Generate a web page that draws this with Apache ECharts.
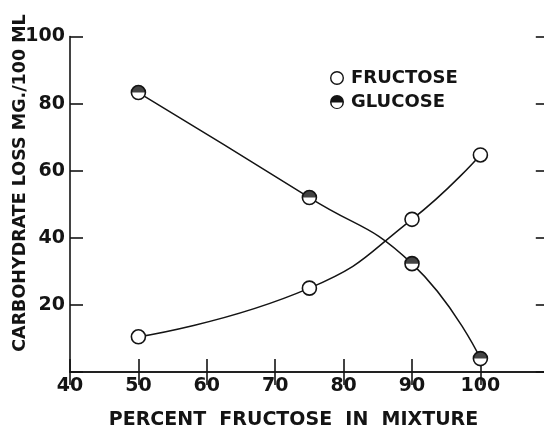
<!DOCTYPE html>
<html><head><meta charset="utf-8">
<script src="https://cdn.jsdelivr.net/npm/echarts@6/dist/echarts.min.js"></script>
<style>html,body{margin:0;padding:0;background:#fff}#c{width:544px;height:429px}</style>
</head><body><div id="c"></div>
<script>
// ---- data ----
const percentFructose = [50, 75, 90, 100];
const fructoseLoss = [10.5, 25, 45.5, 64.7];
const glucoseLoss = [83.3, 52, 32.3, 4];
const xTickLabels = ['40', '50', '60', '70', '80', '90', '100'];
const yTickLabels = ['20', '40', '60', '80', '100'];
const seriesNames = ['FRUCTOSE', 'GLUCOSE'];
const xTitle = 'PERCENT  FRUCTOSE  IN  MIXTURE';
const yTitle = 'CARBOHYDRATE LOSS MG./100 ML';

const INK = '#141414';
const FONT = 'DejaVu Sans';
const ringPath = 'path://M0,10A10,10,0,1,1,20,10A10,10,0,1,1,0,10ZM2,10A8,8,0,1,0,18,10A8,8,0,1,0,2,10Z';
const halfPath = 'path://M0,10A10,10,0,1,1,20,10A10,10,0,1,1,0,10ZM2.2,10.8A7.8,7.8,0,0,0,17.8,10.8Z';
const topHalfDisk = 'path://M0,10A10,10,0,0,1,20,10Z';

const fPts = percentFructose.map((x, i) => [x, fructoseLoss[i]]);
const gPts = percentFructose.map((x, i) => [x, glucoseLoss[i]]);

const labelStyle = {fontFamily: FONT, fontWeight: 'bold', fontSize: 19, color: INK};
const axisLine = {show: true, lineStyle: {color: INK, width: 1.6}};
const tick = {show: true, inside: true, length: 13, lineStyle: {color: INK, width: 1.6}};

const chart = echarts.init(document.getElementById('c'), null, {renderer: 'canvas'});
chart.setOption({
  animation: false,
  backgroundColor: '#ffffff',
  grid: {left: 70, top: 36.5, width: 478.8, height: 335.5, outerBoundsMode: 'none', containLabel: false},
  xAxis: [
    {type: 'value', min: 40, max: 110, interval: 10, position: 'bottom',
     axisLine: axisLine, axisTick: tick, splitLine: {show: false},
     axisLabel: Object.assign({margin: 5, formatter: v => xTickLabels.includes(String(v)) ? String(v) : ''}, labelStyle)},
    {type: 'value', min: 40, max: 110, interval: 10, position: 'top',
     axisLine: axisLine, axisTick: tick, splitLine: {show: false}, axisLabel: {show: false}}
  ],
  yAxis: [
    {type: 'value', min: 0, max: 100, interval: 20, position: 'left',
     axisLine: axisLine, axisTick: tick, splitLine: {show: false},
     axisLabel: Object.assign({margin: 5, formatter: v => yTickLabels.includes(String(v)) ? String(v) : ''}, labelStyle)},
    {type: 'value', min: 0, max: 100, interval: 20, position: 'right',
     axisLine: axisLine, axisTick: tick, splitLine: {show: false}, axisLabel: {show: false}}
  ],
  legend: {
    orient: 'vertical', left: 325, top: 64, itemWidth: 14, itemHeight: 14, itemGap: 6,
    selectedMode: false,
    data: [
      {name: seriesNames[0], icon: ringPath, itemStyle: {color: INK, borderWidth: 0}},
      {name: seriesNames[1], icon: halfPath, itemStyle: {color: INK, borderWidth: 0}}
    ],
    textStyle: {fontFamily: FONT, fontWeight: 'bold', fontSize: 18, lineHeight: 18, color: INK, padding: [0, 0, 0, 2]}
  },
  series: [
    {name: seriesNames[0], type: 'line', data: fPts, smooth: 0.5,
     symbol: 'circle', symbolSize: 14,
     lineStyle: {color: INK, width: 1.5},
     itemStyle: {color: '#ffffff', borderColor: INK, borderWidth: 1.6}, z: 3},
    {name: seriesNames[1], type: 'line', data: gPts, smooth: 0.5,
     symbol: 'circle', symbolSize: 14,
     lineStyle: {color: INK, width: 1.5},
     itemStyle: {color: '#ffffff', borderColor: INK, borderWidth: 1.6}, z: 3},
    {name: seriesNames[1], type: 'scatter', data: gPts, silent: true,
     symbol: topHalfDisk, symbolSize: [14, 7], symbolOffset: [0, -3.5],
     itemStyle: {color: INK, borderWidth: 0}, z: 4}
  ],
  graphic: [
    {type: 'text', x: 20, y: 183, rotation: Math.PI / 2,
     style: {text: yTitle, fontFamily: FONT, fontWeight: 'bold', fontSize: 17.5, fill: INK, align: 'center', verticalAlign: 'middle'}},
    {type: 'text', x: 293.5, y: 420,
     style: {text: xTitle, fontFamily: FONT, fontWeight: 'bold', fontSize: 19, fill: INK, align: 'center', verticalAlign: 'middle'}}
  ]
});
</script>
</body></html>
